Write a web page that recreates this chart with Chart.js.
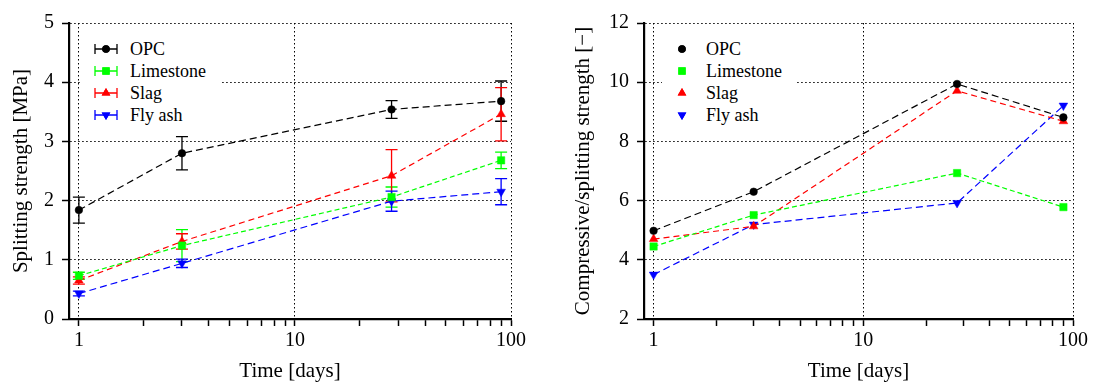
<!DOCTYPE html>
<html>
<head>
<meta charset="utf-8">
<script src="https://cdn.jsdelivr.net/npm/chart.js@4.4.1/dist/chart.umd.min.js"></script>
<style>
  html, body { margin: 0; padding: 0; background: #fff; }
  body { width: 1094px; height: 390px; position: relative; overflow: hidden; font-family: "Liberation Serif", "Times New Roman", Tinos, "DejaVu Serif", serif; }
  .panel { position: absolute; top: 0; width: 547px; height: 390px; }
  .legend { position: absolute; background: #fff; font-size: 18px; color: #000; }
  .row { position: absolute; left: 0; height: 22px; line-height: 22px; white-space: nowrap; }
  .row canvas { position: absolute; top: 0; }
  .row span { position: absolute; top: 0; }
</style>
</head>
<body>
<div class="panel" style="left:0"><canvas id="c1" width="547" height="390"></canvas></div>
<div class="panel" style="left:547px"><canvas id="c2" width="547" height="390"></canvas></div>
<div class="legend" id="leg1" style="left:82px; top:30px; width:139px; height:98px;"></div>
<div class="legend" id="leg2" style="left:662px; top:30px; width:135px; height:98px;"></div>
<script>
// ---------------- data ----------------
const days = [1, 3, 28, 90];
const seriesNames = ['OPC', 'Limestone', 'Slag', 'Fly ash'];

// splitting strength [MPa]
const splitOPC = [1.84, 2.80, 3.54, 3.68];
const splitLimestone = [0.73, 1.24, 2.06, 2.68];
const splitSlag = [0.65, 1.31, 2.42, 3.46];
const splitFlyAsh = [0.43, 0.94, 1.99, 2.15];
// error (±) of splitting strength
const errOPC = [0.22, 0.28, 0.15, 0.34];
const errLimestone = [0.06, 0.27, 0.17, 0.14];
const errSlag = [0.06, 0.13, 0.44, 0.45];
const errFlyAsh = [0.04, 0.07, 0.17, 0.22];

// compressive / splitting strength ratio
const ratioOPC = [4.98, 6.30, 9.94, 8.81];
const ratioLimestone = [4.45, 5.51, 6.93, 5.78];
const ratioSlag = [4.70, 5.13, 9.71, 8.68];
const ratioFlyAsh = [3.50, 5.19, 5.92, 9.21];

// ticks
const xTickValues = [1, 2, 3, 4, 5, 6, 7, 8, 9, 10, 20, 30, 40, 50, 60, 70, 80, 90, 100];
const xTickLabels = { 1: '1', 10: '10', 100: '100' };
const yTicksSplit = [0, 1, 2, 3, 4, 5];
const yTicksRatio = [2, 4, 6, 8, 10, 12];

// ---------------- styles ----------------
const FONT = '"Liberation Serif", "Times New Roman", Tinos, "DejaVu Serif", serif';
const colors = ['#000000', '#00ff00', '#ff0000', '#0000ff'];
const pstyles = ['circle', 'rect', 'triangle', 'triangle'];
const prots = [0, 0, 0, 180];
const pradii = [3.8, 5.2, 5, 5];
const dashes = [[7, 4], [5, 3], [6, 4], [7, 4]];

Chart.defaults.font.family = FONT;
Chart.defaults.font.size = 20;
Chart.defaults.color = '#000';

function makeDatasets(arrs, errs) {
  return arrs.map((a, i) => ({
    label: seriesNames[i],
    data: days.map((d, j) => ({ x: d, y: a[j] })),
    errors: errs ? errs[i] : null,
    borderColor: colors[i],
    backgroundColor: colors[i],
    borderWidth: 1.2,
    borderDash: dashes[i],
    pointStyle: pstyles[i],
    pointRotation: prots[i],
    pointRadius: pradii[i],
    pointBorderWidth: 0.5,
    pointBackgroundColor: colors[i],
    pointBorderColor: colors[i],
    tension: 0,
    fill: false
  }));
}

const errorBarPlugin = {
  id: 'errbars',
  beforeDatasetsDraw(chart) {
    const ctx = chart.ctx;
    const xs = chart.scales.x, ys = chart.scales.y;
    chart.data.datasets.forEach((ds) => {
      if (!ds.errors) return;
      ctx.save();
      ctx.strokeStyle = ds.borderColor;
      ctx.lineWidth = 1.3;
      ctx.setLineDash([]);
      ds.data.forEach((p, j) => {
        const e = ds.errors[j];
        const px = xs.getPixelForValue(p.x);
        const y1 = ys.getPixelForValue(p.y + e);
        const y2 = ys.getPixelForValue(p.y - e);
        const cap = 6;
        ctx.beginPath();
        ctx.moveTo(px, y1); ctx.lineTo(px, y2);
        ctx.moveTo(px - cap, y1); ctx.lineTo(px + cap, y1);
        ctx.moveTo(px - cap, y2); ctx.lineTo(px + cap, y2);
        ctx.stroke();
      });
      ctx.restore();
    });
  }
};

function xScale() {
  return {
    type: 'logarithmic',
    min: 0.9, max: 100,
    afterBuildTicks(s) { s.ticks = xTickValues.map(v => ({ value: v })); },
    afterFit(s) { s.height = 71; },
    ticks: {
      autoSkip: false, maxRotation: 0, minRotation: 0, padding: 3,
      font: { size: 20 },
      callback(v) { return xTickLabels[v] || ''; }
    },
    grid: {
      color: (c) => (c.tick && xTickLabels[c.tick.value]) ? '#000' : 'rgba(0,0,0,0)',
      lineWidth: 1,
      tickColor: '#000', tickWidth: 1.5, tickLength: 7, tickBorderDash: [],
      drawOnChartArea: true
    },
    border: { display: true, color: '#000', width: 2.2, dash: [1.5, 2.5] },
    title: { display: true, text: 'Time [days]', font: { size: 21 }, padding: { top: 0, bottom: 6 } }
  };
}

function yScale(ticks, title, width, titlePad) {
  return {
    type: 'linear',
    min: ticks[0], max: ticks[ticks.length - 1],
    afterBuildTicks(s) { s.ticks = ticks.map(v => ({ value: v })); },
    afterFit(s) { s.width = width; },
    ticks: { padding: 8, font: { size: 20 } },
    grid: { color: '#000', lineWidth: 1, tickColor: '#000', tickWidth: 1.5, tickLength: 7, tickBorderDash: [] },
    border: { display: true, color: '#000', width: 2.2, dash: [1.5, 2.5] },
    title: { display: true, text: title, font: { size: 21 }, padding: { top: titlePad, bottom: 0 } }
  };
}

new Chart(document.getElementById('c1'), {
  type: 'line',
  data: { datasets: makeDatasets([splitOPC, splitLimestone, splitSlag, splitFlyAsh], [errOPC, errLimestone, errSlag, errFlyAsh]) },
  options: {
    responsive: false, animation: false, devicePixelRatio: 1,
    layout: { padding: { left: 0, right: 36, top: 23, bottom: 0 } },
    plugins: { legend: { display: false }, tooltip: { enabled: false } },
    scales: { x: xScale(), y: yScale(yTicksSplit, 'Splitting strength [MPa]', 69, 9) }
  },
  plugins: [errorBarPlugin]
});

new Chart(document.getElementById('c2'), {
  type: 'line',
  data: { datasets: makeDatasets([ratioOPC, ratioLimestone, ratioSlag, ratioFlyAsh], null) },
  options: {
    responsive: false, animation: false, devicePixelRatio: 1,
    layout: { padding: { left: 0, right: 21, top: 23, bottom: 0 } },
    plugins: { legend: { display: false }, tooltip: { enabled: false } },
    scales: { x: xScale(), y: yScale(yTicksRatio, 'Compressive/splitting strength [\u2212]', 97, 24) }
  }
});

// ---------------- legends (HTML) ----------------
function drawMarker(ctx, i, cx, cy) {
  ctx.fillStyle = colors[i];
  Chart.helpers.drawPoint(ctx, { pointStyle: pstyles[i], rotation: prots[i], radius: pradii[i], borderWidth: 0 }, cx, cy);
  ctx.fill();
}
function buildLegend(id, withErr, iconLeft, textLeft) {
  const box = document.getElementById(id);
  seriesNames.forEach((name, i) => {
    const row = document.createElement('div');
    row.className = 'row';
    row.style.top = (8 + i * 22) + 'px';
    row.style.width = '100%';
    const cv = document.createElement('canvas');
    cv.width = 26; cv.height = 22;
    cv.style.left = iconLeft + 'px';
    const ctx = cv.getContext('2d');
    const cx = 13, cy = 11;
    if (withErr) {
      ctx.strokeStyle = colors[i]; ctx.lineWidth = 1.3;
      ctx.beginPath();
      ctx.moveTo(2, cy); ctx.lineTo(24, cy);
      ctx.moveTo(2, cy - 5); ctx.lineTo(2, cy + 5);
      ctx.moveTo(24, cy - 5); ctx.lineTo(24, cy + 5);
      ctx.stroke();
    }
    drawMarker(ctx, i, cx, cy);
    const sp = document.createElement('span');
    sp.textContent = name;
    sp.style.left = textLeft + 'px';
    row.appendChild(cv); row.appendChild(sp);
    box.appendChild(row);
  });
}
buildLegend('leg1', true, 11, 48);
buildLegend('leg2', false, 7, 44);
</script>
</body>
</html>
